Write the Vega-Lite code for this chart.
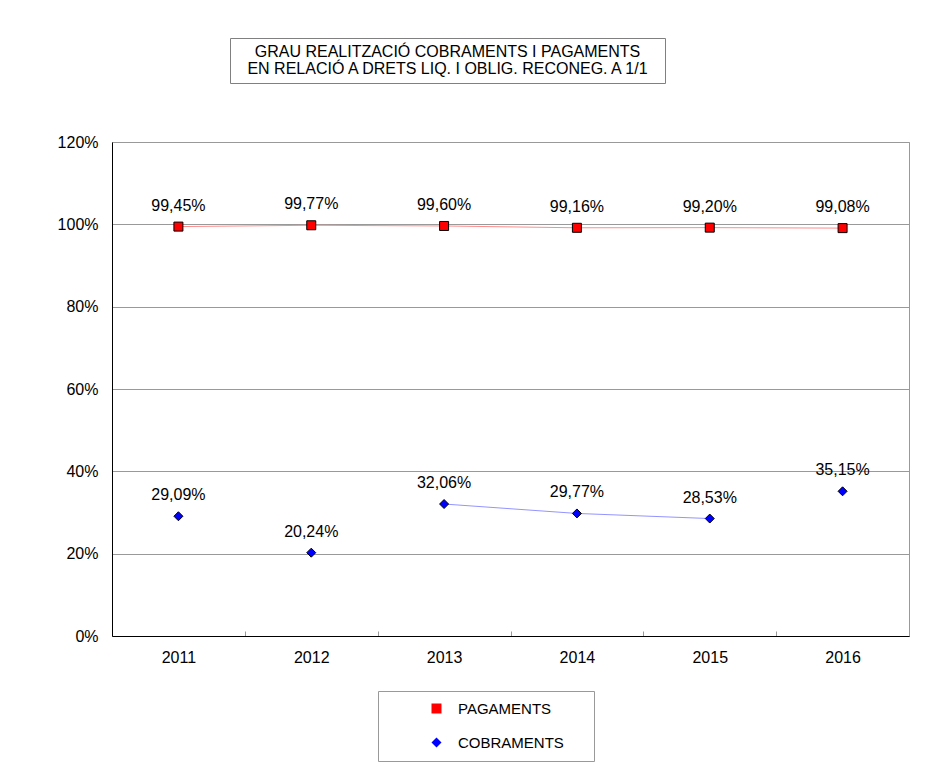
{
  "$schema": "https://vega.github.io/schema/vega-lite/v6.json",
  "background": "white",
  "padding": {"left": 56, "top": 37, "right": 0, "bottom": 0},
  "config": {
    "locale": {"number": {"decimal": ",", "thousands": ".", "grouping": [3], "currency": ["", " €"]}},
    "font": "Liberation Sans",
    "text": {"font": "Liberation Sans", "fontSize": 16, "color": "black"},
    "axis": {"labelFont": "Liberation Sans", "labelFontSize": 16, "labelColor": "black", "title": null},
    "legend": {"labelFont": "Liberation Sans", "titleFont": "Liberation Sans", "symbolStrokeColor": "black", "symbolStrokeWidth": 1}
  },
  "spacing": 49,
  "vconcat": [
    {
      "spacing": 0,
      "hconcat": [
        {
          "width": 117,
          "height": 45,
          "view": {"stroke": null},
          "data": {"values": []},
          "mark": "point"
        },
        {
          "width": 435,
          "height": 45,
          "view": {"stroke": "#808080", "strokeWidth": 1},
          "data": {"values": [{"title": "GRAU REALITZACIÓ COBRAMENTS I PAGAMENTS|EN RELACIÓ A DRETS LIQ. I OBLIG. RECONEG. A 1/1"}]},
          "mark": {"type": "text", "lineBreak": "|", "lineHeight": 17, "fontSize": 16, "align": "center", "baseline": "middle", "dy": -8.5},
          "encoding": {"text": {"field": "title", "type": "nominal"}}
        }
      ]
    },
    {
      "width": 797,
      "height": 494,
      "view": {"stroke": "#999999", "strokeWidth": 1},
      "data": {
        "values": [
          {"year": "2011", "series": "PAGAMENTS", "value": 0.9945, "linked": true},
          {"year": "2012", "series": "PAGAMENTS", "value": 0.9977, "linked": true},
          {"year": "2013", "series": "PAGAMENTS", "value": 0.9960, "linked": true},
          {"year": "2014", "series": "PAGAMENTS", "value": 0.9916, "linked": true},
          {"year": "2015", "series": "PAGAMENTS", "value": 0.9920, "linked": true},
          {"year": "2016", "series": "PAGAMENTS", "value": 0.9908, "linked": true},
          {"year": "2011", "series": "COBRAMENTS", "value": 0.2909, "linked": false},
          {"year": "2012", "series": "COBRAMENTS", "value": 0.2024, "linked": false},
          {"year": "2013", "series": "COBRAMENTS", "value": 0.3206, "linked": true},
          {"year": "2014", "series": "COBRAMENTS", "value": 0.2977, "linked": true},
          {"year": "2015", "series": "COBRAMENTS", "value": 0.2853, "linked": true},
          {"year": "2016", "series": "COBRAMENTS", "value": 0.3515, "linked": false}
        ]
      },
      "encoding": {
        "x": {
          "field": "year",
          "type": "ordinal",
          "scale": {"type": "band", "paddingInner": 0, "paddingOuter": 0},
          "axis": {
            "labelAngle": 0,
            "tickBand": "extent",
            "tickSize": -5,
            "tickColor": "#999999",
            "domainColor": "black",
            "domainWidth": 1,
            "labelPadding": 18,
            "grid": false
          }
        },
        "y": {
          "field": "value",
          "type": "quantitative",
          "scale": {"domain": [0, 1.2], "nice": false},
          "axis": {
            "format": ".0%",
            "values": [0, 0.2, 0.4, 0.6, 0.8, 1.0, 1.2],
            "ticks": false,
            "labelPadding": 14,
            "domainColor": "black",
            "grid": true,
            "gridColor": "#999999",
            "gridWidth": 1
          }
        }
      },
      "layer": [
        {
          "transform": [{"filter": "datum.series === 'PAGAMENTS'"}],
          "mark": {"type": "line", "color": "#ff8c8c", "strokeWidth": 1}
        },
        {
          "transform": [{"filter": "datum.series === 'COBRAMENTS' && datum.linked"}],
          "mark": {"type": "line", "color": "#9494ff", "strokeWidth": 1}
        },
        {
          "mark": {"type": "point", "filled": true, "stroke": "black", "strokeWidth": 1, "size": 81, "opacity": 1},
          "encoding": {
            "fill": {
              "field": "series",
              "type": "nominal",
              "scale": {"domain": ["PAGAMENTS", "COBRAMENTS"], "range": ["#ff0000", "#0000ff"]},
              "legend": {
                "orient": "none",
                "legendX": 266,
                "legendY": 653,
                "title": " ",
                "titleOrient": "right",
                "titlePadding": 20,
                "strokeColor": "#999999",
                "padding": 10,
                "labelFontSize": 15,
                "labelColor": "black",
                "rowPadding": 18,
                "symbolOffset": 41,
                "labelOffset": 14,
                "symbolStrokeColor": "black",
                "symbolStrokeWidth": 1,
                "encode": {
                  "symbols": {
                    "enter": {
                      "stroke": {"value": "black"},
                      "strokeWidth": {"value": 1}
                    },
                    "update": {
                      "stroke": {"value": "black"},
                      "strokeWidth": {"value": 1},
                      "size": {"value": 72}
                    }
                  }
                }
              }
            },
            "shape": {
              "field": "series",
              "type": "nominal",
              "scale": {"domain": ["PAGAMENTS", "COBRAMENTS"], "range": ["square", "diamond"]},
              "legend": {
                "orient": "none",
                "legendX": 266,
                "legendY": 653,
                "title": " ",
                "titleOrient": "right",
                "titlePadding": 20,
                "strokeColor": "#999999",
                "padding": 10,
                "labelFontSize": 15,
                "labelColor": "black",
                "rowPadding": 18,
                "symbolOffset": 41,
                "labelOffset": 14,
                "symbolStrokeColor": "black",
                "symbolStrokeWidth": 1,
                "encode": {
                  "symbols": {
                    "enter": {
                      "stroke": {"value": "black"},
                      "strokeWidth": {"value": 1}
                    },
                    "update": {
                      "stroke": {"value": "black"},
                      "strokeWidth": {"value": 1},
                      "size": {"value": 72}
                    }
                  }
                }
              }
            }
          }
        },
        {
          "mark": {"type": "text", "dy": -21, "fontSize": 16, "baseline": "middle", "align": "center"},
          "encoding": {"text": {"field": "value", "type": "quantitative", "format": ".2%"}}
        }
      ]
    }
  ]
}
